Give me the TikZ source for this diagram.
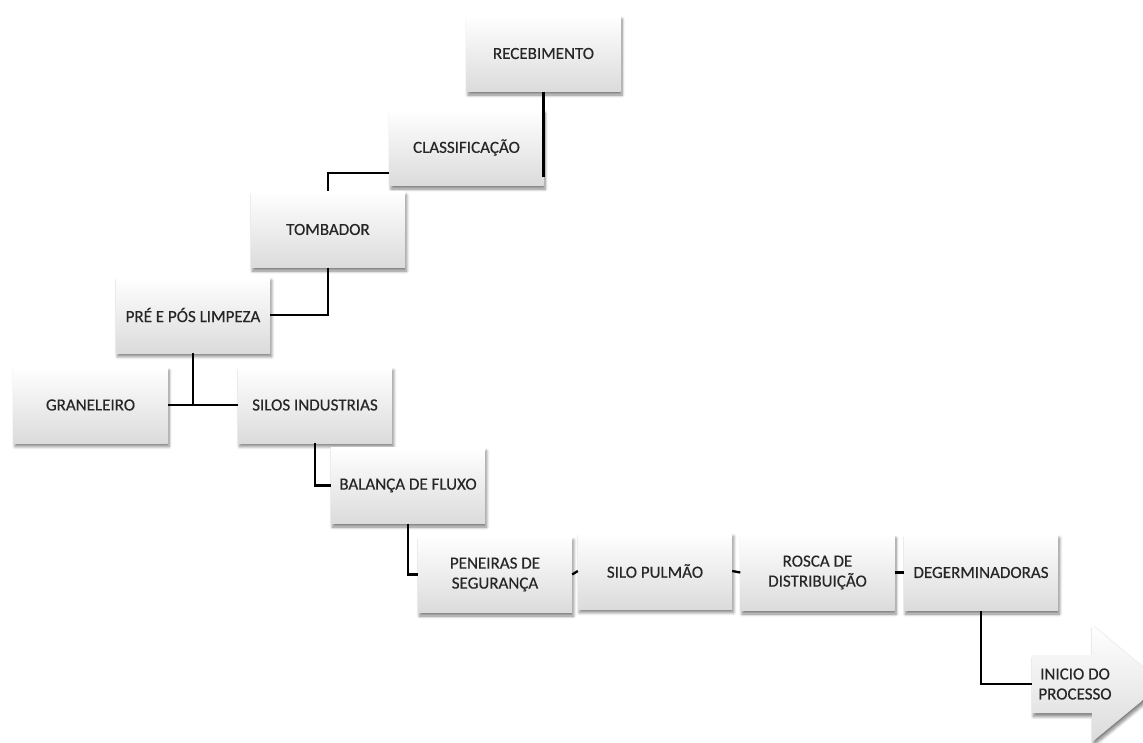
\documentclass[tikz,border=0pt]{standalone}
\usepackage{fontspec}
\setmainfont{Carlito}
\newfontfamily\boxfont{Carlito}[FakeBold=0.4]
\usetikzlibrary{shadows.blur}
\begin{document}
\begin{tikzpicture}[x=1pt,y=-1pt,
  box/.style={rectangle, minimum width=154pt, minimum height=76pt, inner sep=2pt,
    top color=white, bottom color=black!14, draw=none,
    blur shadow={shadow xshift=1.5pt, shadow yshift=-3.5pt, shadow blur steps=6, shadow opacity=50, shadow blur radius=3pt},
    font=\boxfont\fontsize{17}{20}\selectfont, text=black!85, align=center},
  conn/.style={draw=black, line width=2.3pt},
  arrowbody/.style={top color=white, bottom color=black!14, draw=none,
    blur shadow={shadow xshift=1.5pt, shadow yshift=-3.5pt, shadow blur steps=6, shadow opacity=50, shadow blur radius=3pt}},
  lbl/.style={minimum width=86pt, minimum height=58pt, inner sep=0pt,
    font=\boxfont\fontsize{17}{20}\selectfont, text=black!85, align=center}
]
\useasboundingbox (0,0) rectangle (1143,742);
\clip (0,0) rectangle (1143,742);

\coordinate (recend) at (543.5,177);
\coordinate (rec0) at (543.5,53.5);
\coordinate (cla0) at (466.5,147.5);
\coordinate (tom0) at (328,229.5);
\coordinate (pre0) at (193,315);
\coordinate (gra0) at (90.5,405);
\coordinate (sil0) at (315,405);
\coordinate (bal0) at (408,485.5);
\coordinate (pen0) at (495,574.5);
\coordinate (pul0) at (655,571);
\coordinate (ros0) at (817.5,572.5);
\coordinate (deg0) at (981,572.5);

\node[box] (rec) at (rec0) {RECEBIMENTO};
\node[box] (cla) at (cla0) {CLASSIFICAÇÃO};
\node[box] (tom) at (tom0) {TOMBADOR};
\node[box] (pre) at (pre0) {PRÉ E PÓS LIMPEZA};
\node[box] (gra) at (gra0) {GRANELEIRO};
\node[box] (sil) at (sil0) {SILOS INDUSTRIAS};
\node[box] (bal) at (bal0) {BALANÇA DE FLUXO};
\node[box] (pen) at (pen0) {PENEIRAS DE\\SEGURANÇA};
\node[box] (pul) at (pul0) {SILO PULMÃO};
\node[box] (ros) at (ros0) {ROSCA DE\\DISTRIBUIÇÃO};
\node[box] (deg) at (deg0) {DEGERMINADORAS};

\path[arrowbody] (1032,655) -- (1092,655) -- (1092,625) -- (1163,683.5) -- (1092,742) -- (1092,713) -- (1032,713) -- cycle;
\node[lbl] (ini) at (1075,684) {INICIO DO\\PROCESSO};

\draw[conn] (rec.south) -- (recend);
\draw[conn] ([yshift=-25.5pt]cla.west) -| (tom.north);
\draw[conn] (tom.south) |- (pre.east);
\draw[conn] (pre.south) -- (pre.south |- gra.east);
\draw[conn] (gra.east) -- (sil.west);
\draw[conn] (sil.south) |- (bal.west);
\draw[conn] (bal.south) |- (pen.west);
\draw[conn] (pen.east) -- (pul.west);
\draw[conn] (pul.east) -- (ros.west);
\draw[conn] (ros.east) -- (deg.west);
\draw[conn] (deg.south) |- (ini.west);
\end{tikzpicture}
\end{document}
